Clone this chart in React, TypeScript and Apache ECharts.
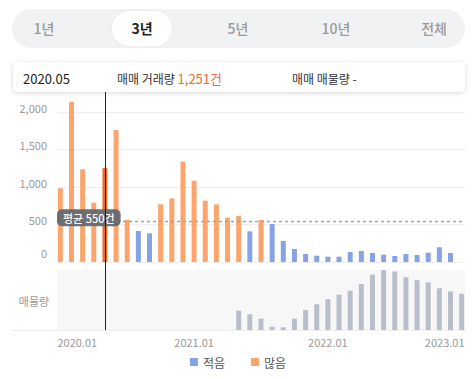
import React, { useEffect, useRef } from 'react';
import * as echarts from 'echarts';

// ---- data ----
const tabLabels = ['1년', '3년', '5년', '10년', '전체'];
const selectedTab = '3년';
const selectedMonth = '2020.05';
const selectedIndex = 4; // month index of 2020.05 (2020.01 = 0)
const AVERAGE = 550;
const tradeVolume = [
  983, 2133, 1236, 791, 1251, 1760, 564, 413, 382, 769, 849, 1338,
  1084, 818, 769, 591, 613, 409, 560, 507, 280, 173, 107, 84,
  71, 71, 133, 147, 120, 98, 80, 107, 93, 124, 196, 120,
];
const listingStartIndex = 16; // 2021.05
const listingVolume = [
  193, 157, 113, 33, 27, 113, 200, 257, 307, 353, 393, 460,
  553, 600, 585, 528, 498, 477, 417, 385, 362,
];
const yTickValues = [0, 500, 1000, 1500, 2000];
const xTickValues = [0, 12, 24, 36];
const xTickLabels = ['2020.01', '2021.01', '2022.01', '2023.01'];
const seriesNames = ['적음', '많음'];

const FONT = "'Noto Sans CJK KR', 'Noto Sans', sans-serif";
const BLUE = '#87a3e8';
const ORANGE = '#fba56c';
const SELECTED = '#e9702e';
const GRAY = '#b9bfca';

export default function App() {
  const ref = useRef<HTMLDivElement>(null);

  useEffect(() => {
    if (!ref.current) return;
    const chart = echarts.init(ref.current, undefined, { renderer: 'svg' });

    const item = (v: number, i: number) =>
      i === selectedIndex
        ? { value: [i, v], itemStyle: { color: SELECTED } }
        : { value: [i, v] };
    const lowData = tradeVolume
      .map((v, i) => (v < AVERAGE ? item(v, i) : null))
      .filter((d) => d !== null);
    const highData = tradeVolume
      .map((v, i) => (v >= AVERAGE ? item(v, i) : null))
      .filter((d) => d !== null);
    const listingData = listingVolume.map((v, k) => [listingStartIndex + k, v]);

    const staticGraphics: any[] = [
      // tab bar
      { type: 'rect', shape: { x: 12, y: 9, width: 453, height: 39, r: 19.5 }, style: { fill: '#f1f2f4' }, z: 10 },
      { type: 'rect', shape: { x: 112, y: 11, width: 60, height: 35, r: 17.5 }, style: { fill: '#ffffff', shadowBlur: 2, shadowColor: 'rgba(0,0,0,0.06)' }, z: 11 },
      ...tabLabels.map((t, k) => ({
        type: 'text',
        x: [44, 142, 238, 336, 434][k],
        y: 28,
        z: 12,
        style: {
          text: t,
          fontFamily: FONT,
          fontSize: 14,
          fontWeight: t === selectedTab ? 'bold' : 500,
          fill: t === selectedTab ? '#222222' : '#9a9a9a',
          align: 'center',
          verticalAlign: 'middle',
        },
      })),
      // info box
      { type: 'rect', shape: { x: 13, y: 62, width: 452, height: 30, r: 5 }, style: { fill: '#ffffff', shadowBlur: 5, shadowColor: 'rgba(0,0,0,0.15)', shadowOffsetY: 1 }, z: 10 },
      { type: 'text', x: 23, y: 78, z: 12, style: { text: selectedMonth, fontFamily: FONT, fontSize: 13, fill: '#222', verticalAlign: 'middle' } },
      {
        type: 'text', x: 117, y: 78, z: 12,
        style: {
          text: '{a|매매 거래량 }{b|' + tradeVolume[selectedIndex].toLocaleString('en-US') + '건}',
          verticalAlign: 'middle',
          rich: {
            a: { fontFamily: FONT, fontSize: 12, fill: '#333' },
            b: { fontFamily: FONT, fontSize: 13, fill: SELECTED },
          },
        },
      },
      { type: 'text', x: 292, y: 78, z: 12, style: { text: '매매 매물량 -', fontFamily: FONT, fontSize: 12, fill: '#333', verticalAlign: 'middle' } },
      // lower panel label & base line
      { type: 'text', x: 34, y: 301, z: 12, style: { text: '매물량', fontFamily: FONT, fontSize: 11, fill: '#999', align: 'center', verticalAlign: 'middle' } },
      { type: 'line', shape: { x1: 12, y1: 330.5, x2: 465, y2: 330.5 }, style: { stroke: '#eeeeee', lineWidth: 1 }, z: 5 },
    ];

    const baseOption: any = {
      animation: false,
      textStyle: { fontFamily: FONT },
      grid: [
        { left: 57, right: 11, top: 97, height: 165 },
        { left: 57, right: 11, top: 270, height: 60, show: true, backgroundColor: '#f7f7f8', borderWidth: 0 },
      ],
      legend: {
        data: seriesNames,
        top: 351,
        left: 'center',
        icon: 'rect',
        itemWidth: 8,
        itemHeight: 8,
        itemGap: 26,
        textStyle: { fontSize: 12, color: '#555', fontFamily: FONT },
      },
      xAxis: [
        { type: 'value', gridIndex: 0, min: -0.3, max: 36.3, show: false, splitLine: { show: false } },
        {
          type: 'value', gridIndex: 1, min: -0.3, max: 36.3,
          axisLine: { show: false }, axisTick: { show: false }, splitLine: { show: false },
          axisLabel: {
            customValues: xTickValues,
            margin: 6,
            color: '#999',
            fontSize: 11,
            fontFamily: FONT,
            formatter: (v: number) => {
              const k = xTickValues.indexOf(Math.round(v));
              const label = k >= 0 ? xTickLabels[k] : '';
              if (k === 0) return '{l|' + label + '}';
              if (k === xTickValues.length - 1) return '{r|' + label + '}';
              return '{c|' + label + '}';
            },
            rich: {
              l: { padding: [0, 0, 0, 34], fontSize: 11, color: '#999', fontFamily: FONT },
              r: { padding: [0, 34, 0, 0], fontSize: 11, color: '#999', fontFamily: FONT },
              c: { fontSize: 11, color: '#999', fontFamily: FONT },
            },
          },
        },
      ],
      yAxis: [
        {
          type: 'value', gridIndex: 0, min: 0, max: 2200,
          axisLine: { show: false },
          axisTick: { show: false, customValues: yTickValues },
          splitLine: { show: true, lineStyle: { color: '#eeeeee' } },
          axisLabel: {
            customValues: yTickValues,
            margin: 10,
            color: '#999',
            fontSize: 11,
            fontFamily: FONT,
            formatter: (v: number) =>
              v === 0 ? '{z|0}' : '{a|' + v.toLocaleString('en-US') + '}',
            rich: {
              z: { padding: [0, 0, 18, 0], fontSize: 11, color: '#999', fontFamily: FONT },
              a: { padding: [0, 0, 9, 0], fontSize: 11, color: '#999', fontFamily: FONT },
            },
          },
        },
        { type: 'value', gridIndex: 1, min: 0, max: 600, show: false, splitLine: { show: false } },
      ],
      series: [
        {
          name: seriesNames[0], type: 'bar', xAxisIndex: 0, yAxisIndex: 0,
          barWidth: 5, barGap: '-100%', itemStyle: { color: BLUE }, data: lowData,
        },
        {
          name: seriesNames[1], type: 'bar', xAxisIndex: 0, yAxisIndex: 0,
          barWidth: 5, barGap: '-100%', itemStyle: { color: ORANGE }, data: highData,
          markLine: {
            silent: true,
            symbol: 'none',
            label: { show: false },
            lineStyle: { type: [3, 3], color: '#a3a3a3', width: 1.3 },
            data: [{ yAxis: AVERAGE }],
          },
        },
        {
          name: '매물량', type: 'bar', xAxisIndex: 1, yAxisIndex: 1,
          barWidth: 5, itemStyle: { color: GRAY }, data: listingData,
        },
      ],
      graphic: staticGraphics,
    };

    chart.setOption(baseOption);

    const cx = chart.convertToPixel({ xAxisIndex: 0 } as any, selectedIndex) as number;
    const avgY = chart.convertToPixel({ yAxisIndex: 0 } as any, AVERAGE) as number;

    const dynamicGraphics: any[] = [
      {
        type: 'text', x: 57, y: avgY - 3, z: 20,
        style: {
          text: '평균 ' + AVERAGE + '건',
          fontFamily: FONT, fontSize: 11, fontWeight: 500, fill: '#ffffff',
          backgroundColor: 'rgba(100,104,112,0.95)', borderRadius: 5,
          padding: [3, 6, 3, 6],
          verticalAlign: 'middle',
        },
      },
      {
        type: 'line', z: 30,
        shape: { x1: Math.round(cx) + 0.5, y1: 92, x2: Math.round(cx) + 0.5, y2: 330 },
        style: { stroke: '#222222', lineWidth: 1 },
      },
    ];

    chart.setOption({ ...baseOption, graphic: [...staticGraphics, ...dynamicGraphics] }, true);

    return () => chart.dispose();
  }, []);

  return (
    <div
      ref={ref}
      style={{ position: 'absolute', left: 0, top: 0, width: 476, height: 379, background: '#ffffff' }}
    />
  );
}
